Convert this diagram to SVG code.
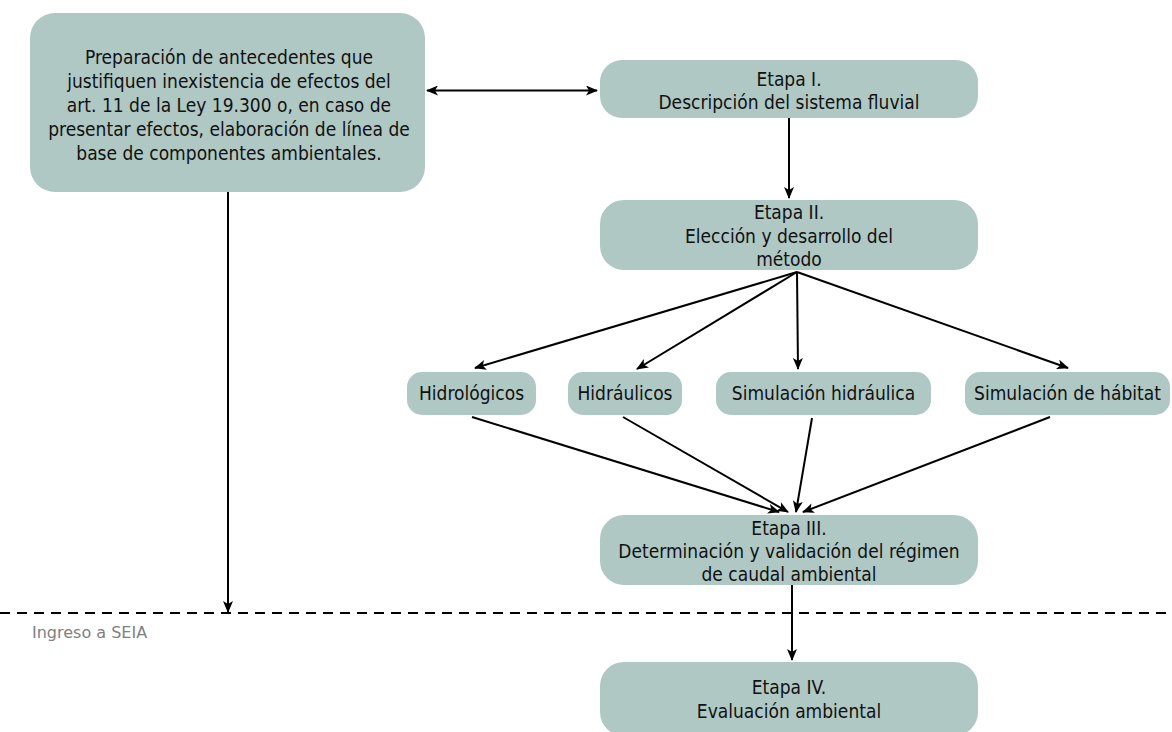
<svg xmlns="http://www.w3.org/2000/svg" width="1172" height="732" viewBox="0 0 1172 732">
<defs>
<style>
.box{fill:#afc8c4;stroke:none}
.t{font-family:"DejaVu Sans Condensed","DejaVu Sans",Verdana,sans-serif;font-stretch:condensed;font-size:19px;fill:#111;text-anchor:middle}
.c{stroke:#000;stroke-width:2;fill:none}
.lbl{font-family:"DejaVu Sans",Verdana,sans-serif;font-size:16px;fill:#808080}
</style>
<marker id="ah" viewBox="0 0 12 10" refX="11" refY="5" markerWidth="12" markerHeight="10" markerUnits="userSpaceOnUse" orient="auto-start-reverse">
<path d="M0,0 L12,5 L0,10 L3,5 z" fill="#000"/>
</marker>
</defs>
<rect width="1172" height="732" fill="#fff"/>
<g id="connectors">
<line class="c" x1="427" y1="90.5" x2="597" y2="90.5" marker-start="url(#ah)" marker-end="url(#ah)"/>
<line class="c" x1="789" y1="118" x2="789" y2="198" marker-end="url(#ah)"/>
<line class="c" x1="797" y1="272" x2="475" y2="368" marker-end="url(#ah)"/>
<line class="c" x1="797" y1="272" x2="637" y2="369" marker-end="url(#ah)"/>
<line class="c" x1="797" y1="272" x2="798" y2="369" marker-end="url(#ah)"/>
<line class="c" x1="797" y1="272" x2="1068" y2="368" marker-end="url(#ah)"/>
<line class="c" x1="472" y1="417" x2="779" y2="512" marker-end="url(#ah)"/>
<line class="c" x1="623" y1="417" x2="788" y2="512" marker-end="url(#ah)"/>
<line class="c" x1="812" y1="418" x2="796" y2="512" marker-end="url(#ah)"/>
<line class="c" x1="1050" y1="417" x2="803" y2="512" marker-end="url(#ah)"/>
<line class="c" x1="792" y1="585" x2="792" y2="660" marker-end="url(#ah)"/>
<line class="c" x1="228" y1="192" x2="228" y2="612" marker-end="url(#ah)"/>
</g>
<g id="seia">
<line x1="0" y1="613" x2="1172" y2="613" stroke="#000" stroke-width="2" stroke-dasharray="10 7"/>
<text class="lbl" x="32" y="638">Ingreso a SEIA</text>
</g>
<g id="prep">
<rect class="box" x="30" y="13" width="395" height="179" rx="25"/>
<text class="t" x="229" y="64">Preparación de antecedentes que</text>
<text class="t" x="229" y="88">justifiquen inexistencia de efectos del</text>
<text class="t" x="229" y="112">art. 11 de la Ley 19.300 o, en caso de</text>
<text class="t" x="229" y="136">presentar efectos, elaboración de línea de</text>
<text class="t" x="229" y="160">base de componentes ambientales.</text>
</g>
<g id="etapa1">
<rect class="box" x="600" y="60" width="378" height="58" rx="22"/>
<text class="t" x="789" y="86">Etapa I.</text>
<text class="t" x="789" y="109">Descripción del sistema fluvial</text>
</g>
<g id="etapa2">
<rect class="box" x="600" y="200" width="378" height="70" rx="24"/>
<text class="t" x="789" y="219">Etapa II.</text>
<text class="t" x="789" y="243">Elección y desarrollo del</text>
<text class="t" x="789" y="266">método</text>
</g>
<g id="hidrologicos">
<rect class="box" x="407" y="372" width="129" height="43" rx="15"/>
<text class="t" x="471.5" y="400">Hidrológicos</text>
</g>
<g id="hidraulicos">
<rect class="box" x="568" y="372" width="114" height="43" rx="15"/>
<text class="t" x="625" y="400">Hidráulicos</text>
</g>
<g id="simhidraulica">
<rect class="box" x="716" y="372" width="215" height="43" rx="15"/>
<text class="t" x="823.5" y="400">Simulación hidráulica</text>
</g>
<g id="simhabitat">
<rect class="box" x="965" y="372" width="205" height="43" rx="15"/>
<text class="t" x="1067.5" y="400">Simulación de hábitat</text>
</g>
<g id="etapa3">
<rect class="box" x="600" y="515" width="378" height="70" rx="24"/>
<text class="t" x="789" y="535">Etapa III.</text>
<text class="t" x="789" y="558">Determinación y validación del régimen</text>
<text class="t" x="789" y="581">de caudal ambiental</text>
</g>
<g id="etapa4">
<rect class="box" x="600" y="662" width="378" height="74" rx="24"/>
<text class="t" x="789" y="694">Etapa IV.</text>
<text class="t" x="789" y="718">Evaluación ambiental</text>
</g>
</svg>
